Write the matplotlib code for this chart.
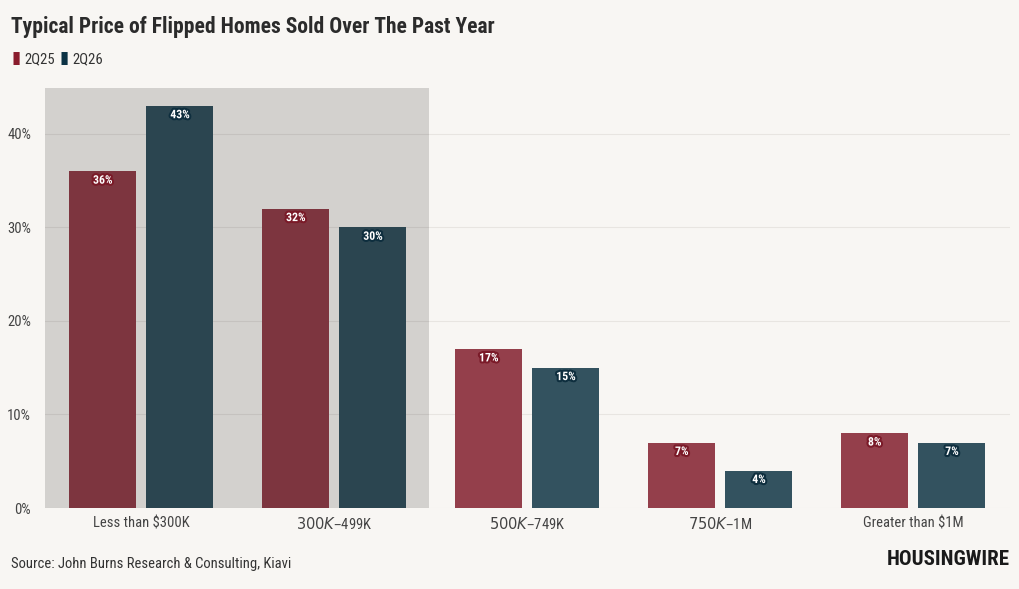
import matplotlib
matplotlib.use("Agg")
import matplotlib.pyplot as plt
import matplotlib.patheffects as pe
import numpy as np

categories = ["Less than $300K", "$300K–$499K", "$500K–$749K", "$750K–$1M", "Greater than $1M"]
q2_25 = [36, 32, 17, 7, 8]
q2_26 = [43, 30, 15, 4, 7]
yticks = [0, 10, 20, 30, 40]

bg = "#f8f6f3"
red = "#943f4b"
teal = "#33525f"
red_dark = "#7a1a28"
teal_dark = "#0e2e3e"

plt.rcParams['font.family'] = ['Roboto Condensed', 'Roboto', 'DejaVu Sans']

fig = plt.figure(figsize=(10.2, 5.89), dpi=100, facecolor=bg)
ax = fig.add_axes([0.044, 0.1375, 0.946, 0.713], facecolor=bg)

x = np.arange(len(categories))
w = 0.347
b1 = ax.bar(x - 0.2, q2_25, w, color=red, zorder=2)
b2 = ax.bar(x + 0.2, q2_26, w, color=teal, zorder=2)

ax.axvspan(-0.5, 1.49, color="black", alpha=0.15, lw=0, zorder=3)

for bars, vals, dark in [(b1, q2_25, red_dark), (b2, q2_26, teal_dark)]:
    for rect, v in zip(bars, vals):
        ax.text(rect.get_x() + rect.get_width() / 2, v - 0.95, f"{v}%",
                ha="center", va="center", color="white", fontsize=8.5,
                fontweight="bold", zorder=5,
                path_effects=[pe.withStroke(linewidth=3, foreground=dark)])

ax.set_xlim(-0.5, 4.5)
ax.set_ylim(0, 44.9)
ax.set_yticks(yticks)
ax.set_yticklabels([f"{t}%" for t in yticks], fontsize=10.5, color="#444444")
ax.set_xticks(x)
ax.set_xticklabels(categories, fontsize=10.5, color="#444444")
ax.tick_params(length=0, pad=6)
ax.tick_params(axis="y", pad=10)
ax.grid(axis="y", color="#e8e5e1", lw=0.8, zorder=0)
for s in ax.spines.values():
    s.set_visible(False)

fig.text(0.011, 0.955, "Typical Price of Flipped Homes Sold Over The Past Year",
         fontsize=15.5, fontweight="bold", color="#2b2b2b", va="center")
fig.text(0.011, 0.9, "\u25AE", fontsize=12, color="#8a1c2c", va="center")
fig.text(0.024, 0.9, "2Q25", fontsize=10.5, color="#333333", va="center")
fig.text(0.058, 0.9, "\u25AE", fontsize=12, color="#0c3345", va="center")
fig.text(0.071, 0.9, "2Q26", fontsize=10.5, color="#333333", va="center")
fig.text(0.011, 0.043, "Source: John Burns Research & Consulting, Kiavi",
         fontsize=10.5, color="#333333", va="center")
fig.text(0.99, 0.05, "HOUSINGWIRE", fontsize=15, fontweight="heavy",
         color="#1a1a1a", ha="right", va="center")

fig.savefig("out.png", dpi=100, facecolor=bg)
